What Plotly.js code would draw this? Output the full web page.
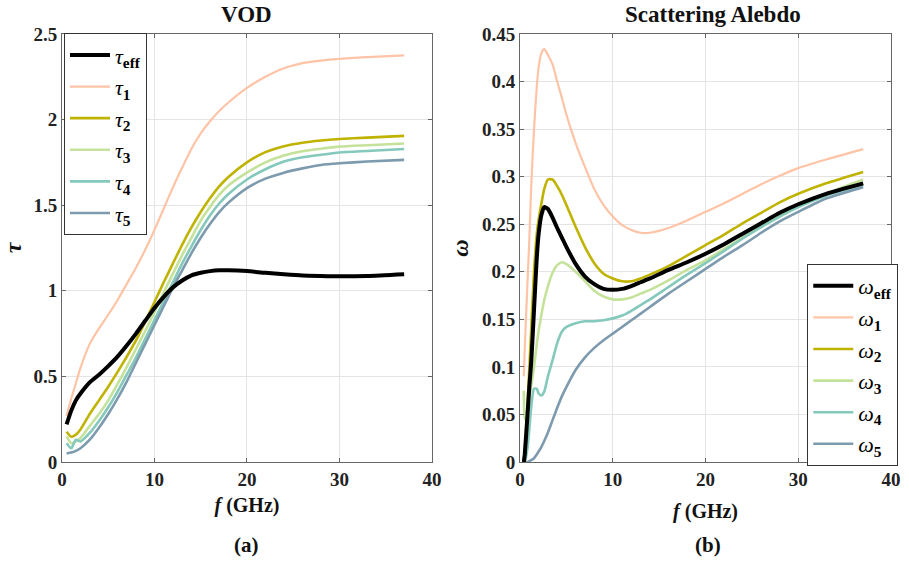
<!DOCTYPE html>
<html>
<head>
<meta charset="utf-8">
<script src="https://cdn.plot.ly/plotly-3.0.1.min.js"></script>
<style>html,body{margin:0;padding:0;background:#fff;}#chart{width:909px;height:563px;}</style>
</head>
<body>
<div id="chart"></div>
<script>
// ---- VOD (left panel) ----
const fTau = [0.5,1,1.5,2,3,4,5,6,7,8,9,10,11,12,13,14,15,16,17,18,20,22,24,26,28,30,33,37];
const tauEff = [0.22,0.30,0.36,0.40,0.465,0.51,0.56,0.615,0.68,0.75,0.825,0.90,0.965,1.02,1.06,1.09,1.105,1.115,1.12,1.12,1.115,1.105,1.097,1.09,1.087,1.085,1.087,1.097];
const tau1 = [0.27,0.37,0.46,0.55,0.69,0.78,0.86,0.945,1.04,1.135,1.24,1.355,1.48,1.605,1.72,1.83,1.92,1.99,2.05,2.10,2.185,2.25,2.30,2.33,2.345,2.355,2.365,2.375];
const tau2 = [0.177,0.148,0.16,0.19,0.28,0.36,0.44,0.525,0.615,0.71,0.82,0.935,1.05,1.16,1.27,1.37,1.46,1.54,1.61,1.665,1.75,1.81,1.845,1.865,1.878,1.887,1.895,1.905];
const tau3 = [0.15,0.11,0.12,0.14,0.21,0.28,0.36,0.455,0.555,0.66,0.765,0.875,0.99,1.10,1.21,1.31,1.41,1.49,1.56,1.615,1.69,1.75,1.79,1.815,1.83,1.842,1.85,1.86];
const tau4 = [0.11,0.08,0.13,0.12,0.17,0.24,0.32,0.41,0.51,0.61,0.72,0.83,0.94,1.05,1.16,1.26,1.355,1.44,1.51,1.565,1.65,1.71,1.755,1.78,1.795,1.808,1.817,1.828];
const tau5 = [0.05,0.055,0.065,0.08,0.13,0.20,0.28,0.37,0.47,0.58,0.69,0.80,0.91,1.02,1.12,1.22,1.31,1.39,1.46,1.515,1.60,1.655,1.69,1.715,1.735,1.745,1.755,1.765];

// ---- Scattering albedo (right panel) ----
const fOmega = [0.4,0.5,0.8,1,1.2,1.5,1.8,2,2.3,2.6,3,3.5,4,4.5,5,6,7,8,9,10,11,12,13,14,16,18,20,22,24,26,28,30,33,37];
const omegaEff = [0.0,0.008,0.05,0.08,0.105,0.16,0.215,0.24,0.26,0.268,0.266,0.257,0.246,0.236,0.226,0.208,0.195,0.187,0.182,0.181,0.182,0.185,0.189,0.193,0.202,0.21,0.219,0.229,0.24,0.251,0.262,0.271,0.282,0.293];
const omega1 = [0.09,0.12,0.19,0.235,0.29,0.35,0.395,0.415,0.43,0.434,0.428,0.418,0.40,0.383,0.365,0.335,0.31,0.287,0.27,0.258,0.249,0.244,0.241,0.241,0.246,0.254,0.263,0.272,0.282,0.292,0.301,0.309,0.318,0.329];
const omega2 = [0.0,0.01,0.06,0.10,0.14,0.20,0.24,0.255,0.272,0.287,0.297,0.297,0.29,0.281,0.27,0.247,0.226,0.209,0.198,0.193,0.19,0.19,0.193,0.197,0.206,0.217,0.228,0.239,0.251,0.262,0.273,0.282,0.293,0.305];
const omega3 = [0.075,0.045,0.055,0.068,0.08,0.10,0.124,0.138,0.155,0.17,0.185,0.199,0.207,0.21,0.208,0.20,0.19,0.18,0.174,0.171,0.171,0.173,0.177,0.181,0.191,0.202,0.212,0.224,0.236,0.248,0.259,0.269,0.282,0.297];
const omega4 = [0.0,0.0,0.015,0.035,0.058,0.077,0.077,0.072,0.07,0.074,0.09,0.107,0.125,0.137,0.142,0.146,0.148,0.148,0.149,0.151,0.154,0.159,0.165,0.171,0.184,0.197,0.209,0.222,0.235,0.247,0.258,0.268,0.28,0.291];
const omega5 = [0.0,0.0,0.0,0.001,0.002,0.004,0.008,0.011,0.016,0.022,0.031,0.044,0.057,0.069,0.079,0.097,0.110,0.120,0.128,0.135,0.142,0.149,0.156,0.163,0.177,0.19,0.203,0.216,0.228,0.241,0.253,0.263,0.277,0.289];

const tauNames = ['<i>τ</i><sub><b>eff</b></sub>','<i>τ</i><sub><b>1</b></sub>','<i>τ</i><sub><b>2</b></sub>','<i>τ</i><sub><b>3</b></sub>','<i>τ</i><sub><b>4</b></sub>','<i>τ</i><sub><b>5</b></sub>'];
const omegaNames = ['<i>ω</i><sub><b>eff</b></sub>','<i>ω</i><sub><b>1</b></sub>','<i>ω</i><sub><b>2</b></sub>','<i>ω</i><sub><b>3</b></sub>','<i>ω</i><sub><b>4</b></sub>','<i>ω</i><sub><b>5</b></sub>'];
const colors = ['#000000','#FFC3A6','#BFB300','#C5E29B','#84C9BB','#7D9AAE'];
const widths = [4,2.2,2.6,2.6,2.6,2.6];

const tauSeries = [tauEff,tau1,tau2,tau3,tau4,tau5];
const omegaSeries = [omegaEff,omega1,omega2,omega3,omega4,omega5];

const traces = [];
tauSeries.forEach((ys,i)=>{
  traces.push({x:fTau,y:ys,type:'scatter',mode:'lines',name:tauNames[i],legendrank:i+1,
    line:{color:colors[i],width:widths[i],shape:'spline',smoothing:0.6},xaxis:'x',yaxis:'y',legend:'legend'});
});
omegaSeries.forEach((ys,i)=>{
  traces.push({x:fOmega,y:ys,type:'scatter',mode:'lines',name:omegaNames[i],legendrank:i+1,
    line:{color:colors[i],width:widths[i],shape:'spline',smoothing:0.6},xaxis:'x2',yaxis:'y2',legend:'legend2'});
});
// draw black on top of coloured lines; legendrank keeps eff first
const order = [1,2,3,4,5,0,7,8,9,10,11,6];
const drawTraces = order.map(i=>traces[i]);

const serif = 'Liberation Serif';
const tickFont = {family:serif,size:19,color:'#222',weight:'bold'};
const axisCommon = {
  showline:true, mirror:'ticks', linecolor:'#666', linewidth:1,
  ticks:'inside', ticklen:4, tickcolor:'#666',
  showgrid:true, gridcolor:'#e4e4e4', gridwidth:1,
  zeroline:false, tickfont:tickFont, fixedrange:true
};
const legendCommon = {
  font:{family:serif,size:22,color:'#000'},
  bgcolor:'#fff', bordercolor:'#333', borderwidth:1,
  itemwidth:40, xanchor:'left', yanchor:'top', tracegroupgap:0
};

const layout = {
  width:909, height:563,
  margin:{l:62,r:11,t:34,b:101},
  paper_bgcolor:'#fff', plot_bgcolor:'#fff',
  showlegend:true,
  xaxis:Object.assign({},axisCommon,{domain:[0,0.4462],range:[0,40],dtick:10,anchor:'y',
    title:{text:'<b><i>f</i> (GHz)</b>',font:{family:serif,size:20,color:'#111'},standoff:9}}),
  yaxis:Object.assign({},axisCommon,{range:[0,2.5],dtick:0.5,anchor:'x',
    title:{text:'<b><i>τ</i></b>',font:{family:serif,size:24,color:'#111'},standoff:6}}),
  xaxis2:Object.assign({},axisCommon,{domain:[0.5526,1],range:[0,40],dtick:10,anchor:'y2',
    title:{text:'<b><i>f</i> (GHz)</b>',font:{family:serif,size:20,color:'#111'},standoff:15}}),
  yaxis2:Object.assign({},axisCommon,{range:[0,0.45],dtick:0.05,anchor:'x2',
    title:{text:'<b><i>ω</i></b>',font:{family:serif,size:24,color:'#111'},standoff:6}}),
  legend:Object.assign({},legendCommon,{x:0.0024,y:1.002}),
  legend2:Object.assign({},legendCommon,{x:0.899,y:0.4626}),
  annotations:[
    {text:'<b>VOD</b>',x:0.2225,y:1.0467,xref:'paper',yref:'paper',showarrow:false,xanchor:'center',yanchor:'middle',font:{family:serif,size:23,color:'#111'}},
    {text:'<b>Scattering Alebdo</b>',x:0.7847,y:1.0467,xref:'paper',yref:'paper',showarrow:false,xanchor:'center',yanchor:'middle',font:{family:serif,size:23,color:'#111'}},
    {text:'<b>(a)</b>',x:0.2225,y:-0.1939,xref:'paper',yref:'paper',showarrow:false,xanchor:'center',yanchor:'middle',font:{family:serif,size:21,color:'#111'}},
    {text:'<b>(b)</b>',x:0.7787,y:-0.1939,xref:'paper',yref:'paper',showarrow:false,xanchor:'center',yanchor:'middle',font:{family:serif,size:21,color:'#111'}}
  ]
};

Plotly.newPlot('chart', drawTraces, layout, {staticPlot:true,displayModeBar:false});
</script>
</body>
</html>
